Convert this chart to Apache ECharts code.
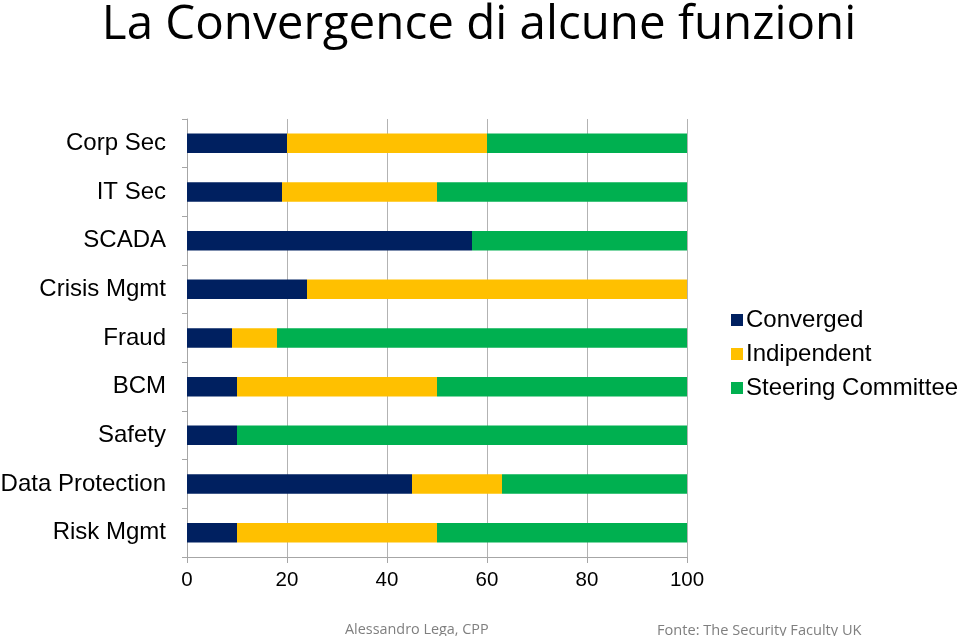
<!DOCTYPE html>
<html><head><meta charset="utf-8">
<script src="https://cdn.jsdelivr.net/npm/echarts@6/dist/echarts.min.js"></script>
<style>html,body{margin:0;padding:0;background:#fff}#c{width:960px;height:636px}</style>
</head><body><div id="c"></div>
<script>
const categories = ['Corp Sec','IT Sec','SCADA','Crisis Mgmt','Fraud','BCM','Safety','Data Protection','Risk Mgmt'];
const converged = [20, 19, 57, 24, 9, 10, 10, 45, 10];
const indipendent = [40, 31, 0, 76, 9, 40, 0, 18, 40];
const steering = [40, 50, 43, 0, 82, 50, 90, 37, 50];
const seriesNames = ['Converged','Indipendent','Steering Committee'];
const colors = ['#002060','#FFC000','#00B050'];

const chart = echarts.init(document.getElementById('c'));
const mk = (name, data, color) => ({
  name, type: 'bar', stack: 'a', data, barCategoryGap: '60%',
  itemStyle: { color }, emphasis: { disabled: true }
});
chart.setOption({
  animation: false,
  title: [
    { text: 'La Convergence di alcune funzioni', left: 474, top: -4, textAlign: 'center',
      textStyle: { fontFamily: 'Open Sans', fontWeight: 'normal', fontSize: 47.5, color: '#000' } },
    { text: 'Alessandro Lega, CPP', left: 340, top: 618,
      textStyle: { fontFamily: 'Open Sans', fontWeight: 'normal', fontSize: 14.4, color: '#7f7f7f' } },
    { text: 'Fonte: The Security Faculty UK', left: 652, top: 618,
      textStyle: { fontFamily: 'Open Sans', fontWeight: 'normal', fontSize: 14.6, color: '#7f7f7f' } }
  ],
  legend: {
    orient: 'vertical', left: 726, top: 303, itemGap: 10,
    itemWidth: 12, itemHeight: 12, icon: 'rect',
    textStyle: { fontFamily: 'Liberation Sans', fontSize: 24, color: '#000', padding: [0,0,0,-2] },
    data: seriesNames
  },
  grid: { left: 187, right: 273, top: 119, bottom: 79, containLabel: false, outerBoundsMode: 'none' },
  xAxis: {
    type: 'value', min: 0, max: 100, interval: 20,
    axisLine: { show: true, lineStyle: { color: '#a6a6a6' } },
    axisTick: { show: true, length: 6, lineStyle: { color: '#a6a6a6' } },
    splitLine: { show: true, lineStyle: { color: '#b3b3b3' } },
    axisLabel: { fontFamily: 'Liberation Sans', fontSize: 20.5, color: '#000', margin: 13 }
  },
  yAxis: {
    type: 'category', data: categories, inverse: true,
    axisLine: { show: true, lineStyle: { color: '#a6a6a6' } },
    axisTick: { show: true, length: 5, lineStyle: { color: '#a6a6a6' } },
    axisLabel: { fontFamily: 'Liberation Sans', fontSize: 24, color: '#000', margin: 21 }
  },
  series: [
    mk(seriesNames[0], converged, colors[0]),
    mk(seriesNames[1], indipendent, colors[1]),
    mk(seriesNames[2], steering, colors[2])
  ]
});
</script>
</body></html>
